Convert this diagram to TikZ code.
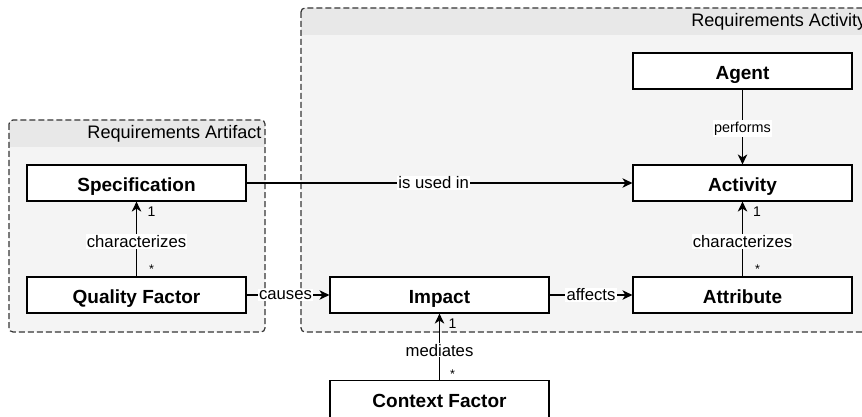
\documentclass[tikz,border=0pt]{standalone}
\usepackage{fontspec}
\setmainfont{Liberation Sans}
\usetikzlibrary{arrows.meta,calc}
\definecolor{hdr}{HTML}{E8E8E8}
\definecolor{bodyc}{HTML}{F4F4F4}
\definecolor{bord}{HTML}{363636}
\tikzset{
  cls/.style={draw=black, fill=white, line width=1.2pt, rectangle, inner sep=0pt,
    text height=17pt, text depth=0pt,
    minimum width=219pt, minimum height=36pt, font=\fontsize{19}{22}\selectfont\bfseries},
  lbl/.style={fill=white, inner sep=1.2pt, font=\fontsize{16.7}{19}\selectfont},
  smalllbl/.style={fill=white, inner sep=1.5pt, font=\fontsize{14.4}{17}\selectfont},
  mult/.style={inner sep=0pt, font=\fontsize{14}{16}\selectfont},
  star/.style={inner sep=0pt, font=\fontsize{12.6}{14}\selectfont},
  conn/.style={line width=1.2pt, -{Stealth[length=10pt,width=9.5pt,inset=3pt]}},
  cont/.style={draw=bord, line width=1.2pt, dash pattern=on 6pt off 3pt, rounded corners=4pt},
  ttl/.style={font=\fontsize{18.1}{21}\selectfont, inner sep=0pt}
}
\begin{document}
\begin{tikzpicture}[x=1pt,y=-1pt]
\useasboundingbox (0,0) rectangle (862,417);
\begin{scope}
\clip (0,0) rectangle (862,417);
% Requirements Activity container
\fill[bodyc, rounded corners=4pt] (301,8) rectangle (870,332);
\fill[hdr, rounded corners=4pt] (301,8) rectangle (870,35);
\fill[hdr] (301,20) rectangle (870,35);
\draw[cont] (301,8) rectangle (870,332);
\node[ttl, anchor=east] (acttitle) at (866.5,22) {Requirements Activity};
% Requirements Artifact container
\fill[bodyc, rounded corners=4pt] (9,120) rectangle (265,332);
\fill[hdr, rounded corners=4pt] (9,120) rectangle (265,147);
\fill[hdr] (9,132) rectangle (265,147);
\draw[cont] (9,120) rectangle (265,332);
\node[ttl, anchor=east] (arttitle) at (261.7,134) {Requirements Artifact};

% classes
\node[cls] (agent) at (742.5,71) {Agent};
\node[cls] (activity) at (742.5,183) {Activity};
\node[cls] (attribute) at (742.5,295) {Attribute};
\node[cls] (spec) at (136.5,183) {Specification};
\node[cls] (quality) at (136.5,295) {Quality Factor};
\node[cls] (impact) at (439.5,295) {Impact};
\node[cls, minimum height=37pt] (context) at (439.5,399) {Context Factor};

% connectors
\draw[conn] (agent.south) -- node[smalllbl, pos=0.52] (lperf) {performs} (activity.north);
\draw[conn] (spec.east) -- node[lbl, pos=0.485] (lused) {is used in} (activity.west);
\draw[conn] (attribute.north) -- node[lbl, pos=0.47] (lchar2) {characterizes} (activity.south);
\draw[conn] (quality.north) -- node[lbl, pos=0.47] (lchar1) {characterizes} (spec.south);
\draw[conn] (quality.east) -- node[lbl, pos=0.47] (lcause) {causes} (impact.west);
\draw[conn] (impact.east) -- node[lbl, pos=0.5] (laff) {affects} (attribute.west);
\draw[conn] (context.north) -- node[lbl, pos=0.45] (lmed) {mediates} (impact.south);

% multiplicities
\node[mult] (m1) at ($(activity.south)+(14.5,10)$) {1};
\node[star] (m2) at ($(attribute.north)+(15,-7)$) {*};
\node[mult] (m3) at ($(spec.south)+(15,10)$) {1};
\node[star] (m4) at ($(quality.north)+(15,-7)$) {*};
\node[mult] (m5) at ($(impact.south)+(13,10)$) {1};
\node[star] (m6) at ($(context.north)+(13,-6)$) {*};
\end{scope}
\end{tikzpicture}
\end{document}
